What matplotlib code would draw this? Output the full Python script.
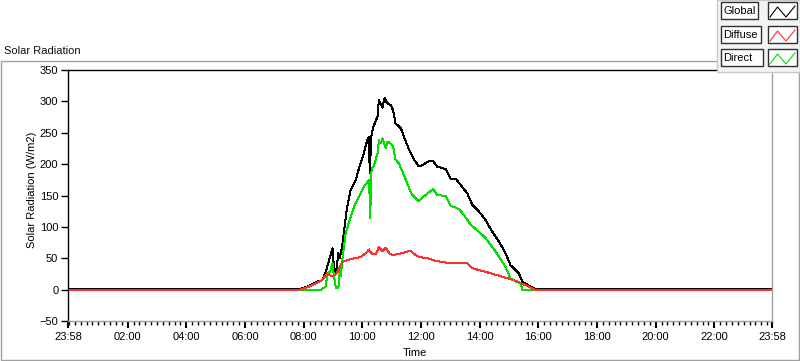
import numpy as np
import matplotlib
matplotlib.use('Agg')
import matplotlib.pyplot as plt
from matplotlib.patches import Rectangle
from matplotlib.lines import Line2D

plt.rcParams['font.family'] = ['Liberation Sans', 'DejaVu Sans']
plt.rcParams['font.size'] = 8

#-----------------------------------------------------------------------------------------------------------------------------------
# values (clock time, W/m2)

global_time = ['00:00', '07:54', '08:11', '08:18', '08:25', '08:38', '08:45', '08:52', '08:55', '08:59', '09:02', '09:06',
               '09:11', '09:14', '09:19', '09:22', '09:29', '09:36', '09:47', '09:53', '10:03', '10:10', '10:14', '10:15',
               '10:19', '10:23', '10:31', '10:34', '10:41', '10:46', '10:50', '10:58', '11:03', '11:08', '11:19', '11:25',
               '11:36', '11:46', '11:55', '12:03', '12:13', '12:25', '12:33', '12:51', '13:01', '13:11', '13:18', '13:35',
               '13:45', '13:59', '14:12', '14:26', '14:40', '14:53', '15:03', '15:20', '15:27', '15:41', '15:53', '23:58']
global_val = [1.5, 1.5, 6, 9, 12, 15, 28, 47, 55, 66, 36, 26,
              58, 50, 71, 90, 132, 159, 175, 193, 217, 238, 244, 185,
              249, 260, 276, 302, 290, 306, 298, 294, 286, 265, 257, 244,
              222, 207, 197, 198, 204, 205, 196, 192, 176, 177, 170, 153,
              135, 124, 111, 92, 76, 58, 39, 26, 13, 6, 1.5, 1.5]

diffuse_time = ['00:00', '07:54', '08:11', '08:25', '08:38', '08:48', '08:59', '09:08', '09:19', '09:29', '09:43', '09:57',
                '10:07', '10:14', '10:18', '10:27', '10:34', '10:41', '10:48', '10:55', '11:01', '11:15', '11:25', '11:39',
                '11:46', '11:56', '12:13', '12:30', '12:51', '13:18', '13:35', '13:45', '14:05', '14:23', '14:40', '14:57',
                '15:14', '15:34', '15:53', '23:58']
diffuse_val = [0, 0, 5, 10, 15, 26, 21, 26, 44, 47, 50, 52,
               58, 64, 58, 56, 68, 61, 67, 58, 55, 57, 59, 62,
               57, 52, 50, 46, 43, 42, 42, 34, 30, 26, 22, 18,
               14, 7, 0, 0]

direct_time = ['00:00', '08:36', '08:45', '08:48', '08:55', '08:59', '09:02', '09:06', '09:11', '09:14', '09:16', '09:19',
               '09:26', '09:33', '09:43', '09:53', '10:03', '10:14', '10:16', '10:19', '10:23', '10:31', '10:34', '10:38',
               '10:41', '10:48', '10:51', '10:58', '11:03', '11:08', '11:15', '11:22', '11:29', '11:36', '11:42', '11:55',
               '12:03', '12:13', '12:25', '12:33', '12:51', '13:01', '13:11', '13:18', '13:28', '13:42', '13:59', '14:12',
               '14:26', '14:40', '14:53', '15:03', '15:14', '15:24', '15:27', '23:58']
direct_val = [0, 0, 5, 21, 31, 42, 21, 2, 2, 31, 21, 47,
              90, 108, 132, 148, 164, 175, 114, 193, 196, 217, 238, 233,
              241, 225, 236, 233, 228, 207, 201, 188, 175, 161, 151, 141,
              147, 153, 160, 151, 149, 133, 131, 128, 119, 103, 92, 82,
              68, 52, 36, 18, 13, 10, 0, 0]

tick_labels = ['23:58', '02:00', '04:00', '06:00', '08:00', '10:00', '12:00',
               '14:00', '16:00', '18:00', '20:00', '22:00', '23:58']

#-----------------------------------------------------------------------------------------------------------------------------------

def to_min(s):
    # minutes since 23:58 of the day before
    h, m = s.split(':')
    return int(h) * 60 + int(m) + 2

W, H = 800, 361
def fx(x):
    return x / W
def fy(y):
    return 1 - y / H

fig = plt.figure('solar', figsize=(8, 3.61), dpi=100)

# outer frame of the graph panel
fig.patches.append(Rectangle((fx(0.5), fy(360)), fx(798.5), (360 - 61) / H, transform=fig.transFigure,
                             fill=False, edgecolor='#a0a0a0', lw=1, zorder=0))
fig.text(fx(4), fy(51), 'Solar Radiation', ha='left', va='center', color='#101010')

ax = fig.add_axes([fx(68), fy(321), fx(772 - 68), (321 - 70) / H])

ax.plot([to_min(t) for t in global_time], global_val, color='black', lw=0.72, antialiased=False)
ax.plot([to_min(t) for t in direct_time], direct_val, color='#00e000', lw=0.72, antialiased=False)
ax.plot([to_min(t) for t in diffuse_time], diffuse_val, color='#ff3030', lw=0.72, antialiased=False)

ax.set_xlim(0, 1440)
ax.set_ylim(-50, 350)
ax.set_yticks(np.arange(-50, 351, 50))
ax.set_xticks([0] + [to_min(t) for t in tick_labels[1:-1]] + [to_min('23:58')])
ax.set_xticklabels(tick_labels)
ax.set_xticks(np.arange(122 % 12, 1441, 12), minor=True)

ax.tick_params(axis='y', direction='out', length=5, width=1, pad=2, colors='black')
ax.tick_params(axis='x', which='major', direction='out', length=5, width=1.5, pad=3)
ax.tick_params(axis='x', which='minor', direction='out', length=3, width=1)

ax.spines['top'].set_color('black')
ax.spines['left'].set_color('black')
ax.spines['right'].set_color('#a0a0a0')
ax.spines['bottom'].set_color('#a0a0a0')
for s in ax.spines.values():
    s.set_linewidth(1)

fig.text(fx(415), fy(353), 'Time', ha='center', va='center')
fig.text(fx(32), fy(190), 'Solar Radiation (W/m2)', ha='center', va='center', rotation=90)

#-----------------------------------------------------------------------------------------------------------------------------------
# legend panel in the top right corner

fig.patches.append(Rectangle((fx(717), fy(72)), fx(83), 72 / H, transform=fig.transFigure,
                             facecolor='#f4f4f4', edgecolor='#c8c8c8', lw=1, zorder=5))
names = ['Global', 'Diffuse', 'Direct']
colours = ['black', '#ff3030', '#00e000']
box_right = [758, 761, 763]
rows = [2, 26, 49]
for name, c, r, br in zip(names, colours, rows, box_right):
    fig.patches.append(Rectangle((fx(721), fy(r + 17)), fx(br - 721), 17 / H, transform=fig.transFigure,
                                 facecolor='white', edgecolor='#303030', lw=1, zorder=6))
    fig.text(fx(723), fy(r + 9), name, ha='left', va='center', zorder=7)
    fig.patches.append(Rectangle((fx(768), fy(r + 17)), fx(29), 17 / H, transform=fig.transFigure,
                                 facecolor='white', edgecolor='#303030', lw=1, zorder=6))
    zx = [770, 777.5, 786, 795]
    zy = [r + 15, r + 5, r + 15, r + 4]
    fig.lines.append(Line2D([fx(v) for v in zx], [fy(v) for v in zy], transform=fig.transFigure,
                            color=c, lw=0.8, zorder=7))

plt.savefig('out.png')
